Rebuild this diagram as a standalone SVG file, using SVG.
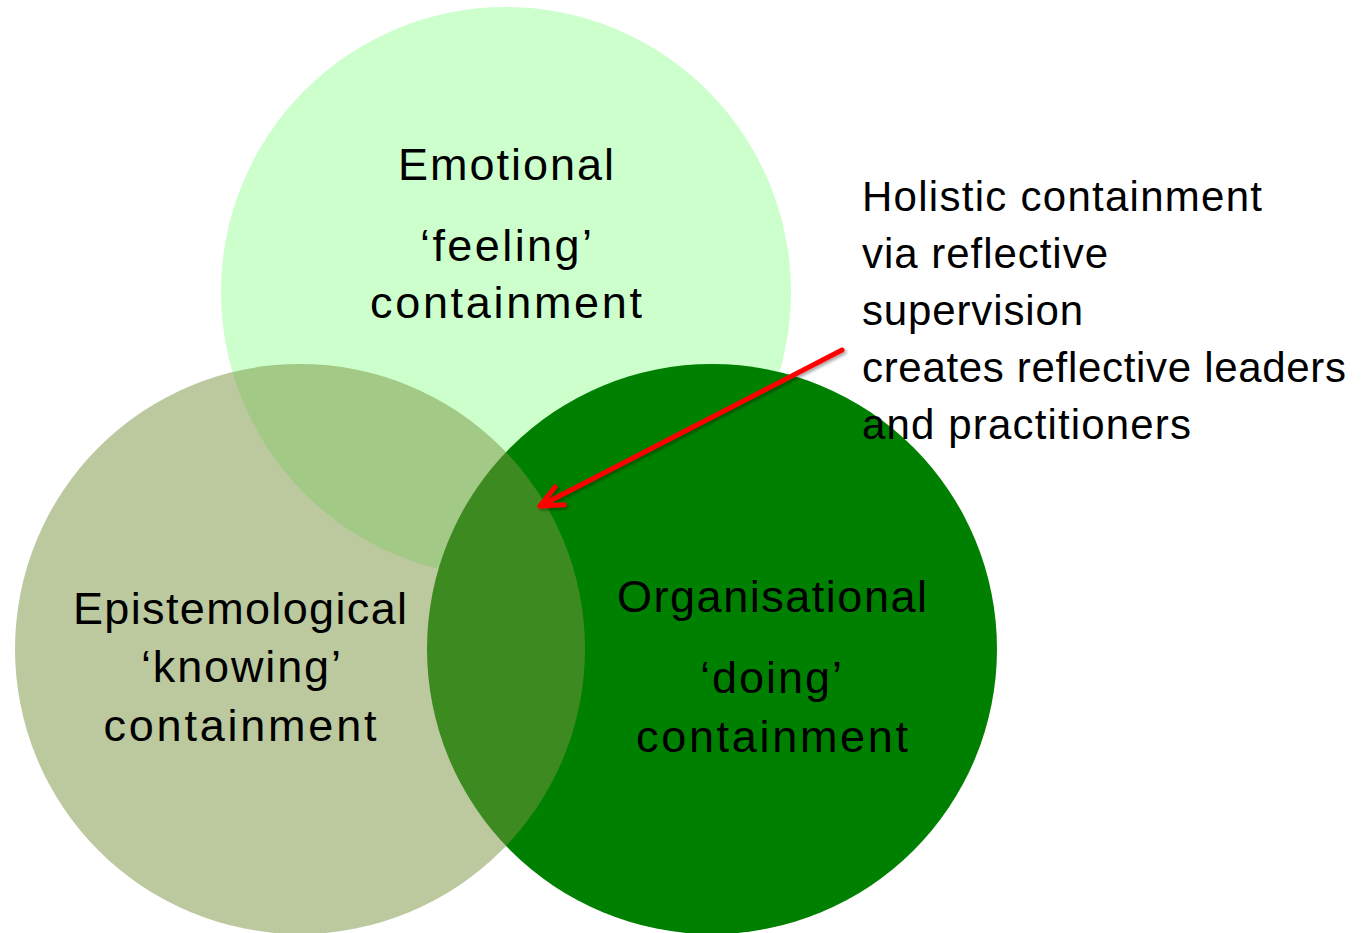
<svg xmlns="http://www.w3.org/2000/svg" width="1364" height="933" viewBox="0 0 1364 933">
  <style>
    .lbl { font-family: "Liberation Sans", Arial, sans-serif; font-size: 42px; fill: #000000; }
    .clbl { font-family: "Liberation Sans", Arial, sans-serif; font-size: 45px; fill: #000000; text-anchor: middle; }
  </style>
  <defs>
    <filter id="shadow" x="-10%" y="-10%" width="130%" height="130%">
      <feDropShadow dx="2" dy="2" stdDeviation="1.5" flood-color="#000000" flood-opacity="0.35"/>
    </filter>
    <marker id="chev" markerUnits="userSpaceOnUse" viewBox="-30 -16 36 32" markerWidth="36" markerHeight="32" refX="0" refY="0" orient="auto">
      <path d="M -22,-10 L 0,0 L -22,10" fill="none" stroke="#FF0000" stroke-width="5" stroke-linecap="round" stroke-linejoin="round"/>
    </marker>
  </defs>
  <rect width="1364" height="933" fill="#FFFFFF"/>

  <g id="emotional">
    <circle cx="506" cy="292" r="285" fill="#CCFFCC"/>
  </g>
  <g id="organisational">
    <circle cx="712" cy="649" r="285" fill="#008000"/>
  </g>
  <g id="epistemological">
    <circle cx="300" cy="649" r="285" fill="rgb(122,148,64)" fill-opacity="0.5"/>
  </g>

  <g id="emotional-text">
    <text class="clbl" x="506" y="180" textLength="216">Emotional</text>
    <text class="clbl" x="506" y="261" textLength="172">‘feeling’</text>
    <text class="clbl" x="506" y="318" textLength="272">containment</text>
  </g>
  <g id="epistemological-text">
    <text class="clbl" x="240" y="624" textLength="334">Epistemological</text>
    <text class="clbl" x="241" y="682" textLength="200">‘knowing’</text>
    <text class="clbl" x="240" y="741" textLength="273">containment</text>
  </g>
  <g id="organisational-text">
    <text class="clbl" x="772" y="612" textLength="310">Organisational</text>
    <text class="clbl" x="771" y="693" textLength="142">‘doing’</text>
    <text class="clbl" x="772" y="752" textLength="272">containment</text>
  </g>

  <g id="connectors" filter="url(#shadow)">
    <line x1="842" y1="350" x2="540" y2="506" stroke="#FF0000" stroke-width="5" stroke-linecap="round" marker-end="url(#chev)"/>
  </g>

  <g id="note">
    <text class="lbl" x="862" y="211" textLength="400">Holistic containment</text>
    <text class="lbl" x="862" y="268" textLength="246">via reflective</text>
    <text class="lbl" x="862" y="325" textLength="221">supervision</text>
    <text class="lbl" x="862" y="382" textLength="484">creates reflective leaders</text>
    <text class="lbl" x="862" y="439" textLength="329">and practitioners</text>
  </g>
</svg>
